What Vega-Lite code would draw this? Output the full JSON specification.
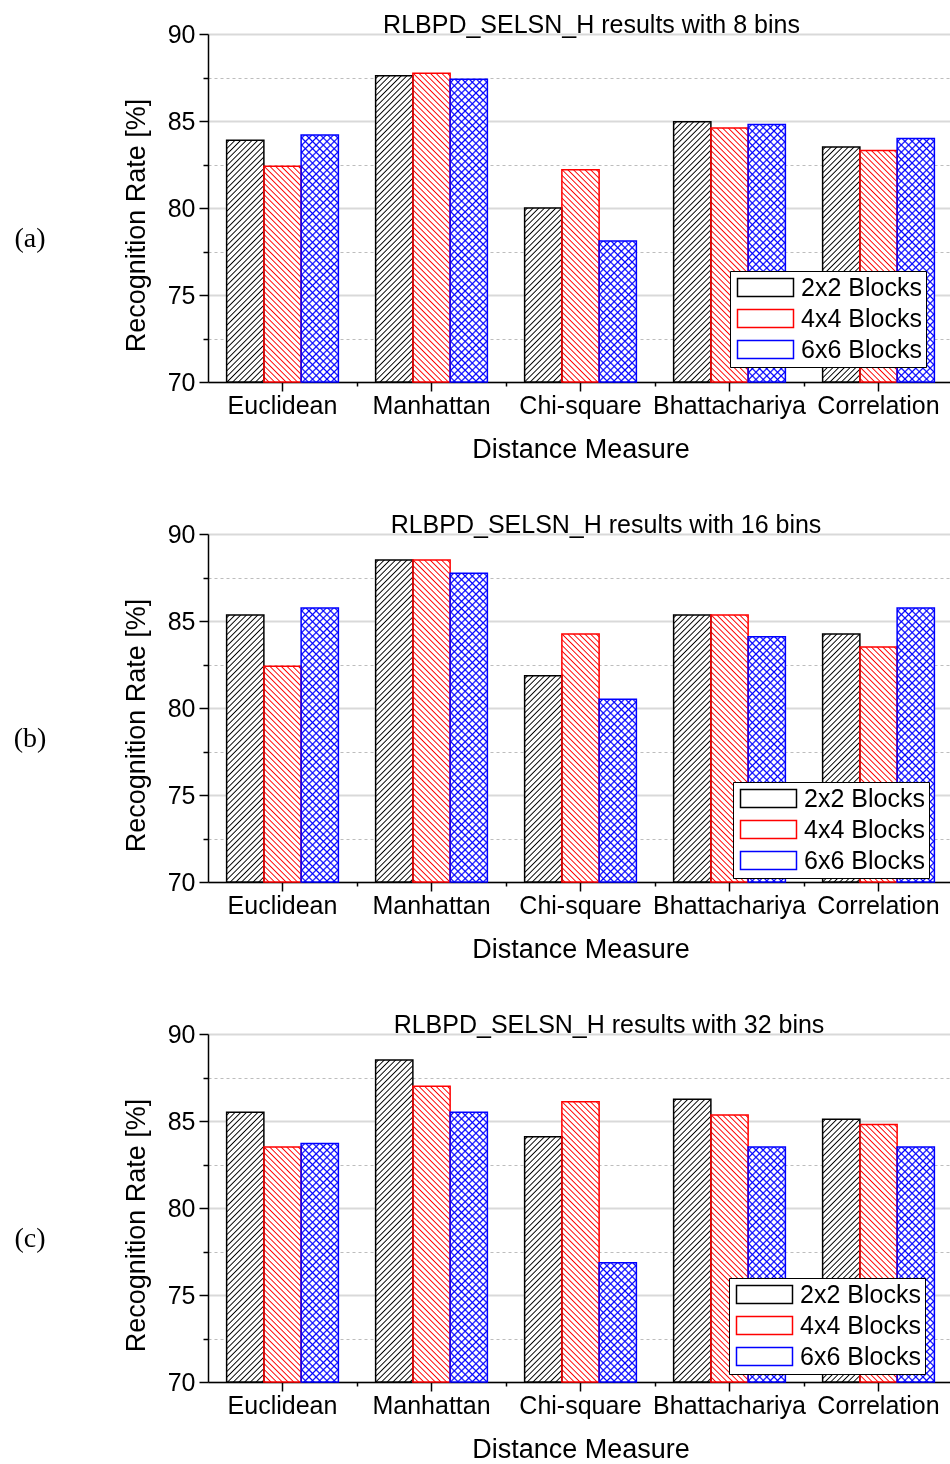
{
"$schema": "https://vega.github.io/schema/vega-lite/v6.json",
"padding": {"left": 13, "top": 13, "right": 0, "bottom": 0},
"background": "white",
"params": [
{"name": "hatch", "value": [{"offset":0.004,"color":"transparent"},{"offset":0.0075,"color":"#000"},{"offset":0.011,"color":"transparent"},{"offset":0.019,"color":"transparent"},{"offset":0.0225,"color":"#000"},{"offset":0.026,"color":"transparent"},{"offset":0.034,"color":"transparent"},{"offset":0.0375,"color":"#000"},{"offset":0.041,"color":"transparent"},{"offset":0.049,"color":"transparent"},{"offset":0.0525,"color":"#000"},{"offset":0.056,"color":"transparent"},{"offset":0.064,"color":"transparent"},{"offset":0.0675,"color":"#000"},{"offset":0.071,"color":"transparent"},{"offset":0.079,"color":"transparent"},{"offset":0.0825,"color":"#000"},{"offset":0.086,"color":"transparent"},{"offset":0.094,"color":"transparent"},{"offset":0.0975,"color":"#000"},{"offset":0.101,"color":"transparent"},{"offset":0.109,"color":"transparent"},{"offset":0.1125,"color":"#000"},{"offset":0.116,"color":"transparent"},{"offset":0.124,"color":"transparent"},{"offset":0.1275,"color":"#000"},{"offset":0.131,"color":"transparent"},{"offset":0.139,"color":"transparent"},{"offset":0.1425,"color":"#000"},{"offset":0.146,"color":"transparent"},{"offset":0.154,"color":"transparent"},{"offset":0.1575,"color":"#000"},{"offset":0.161,"color":"transparent"},{"offset":0.169,"color":"transparent"},{"offset":0.1725,"color":"#000"},{"offset":0.176,"color":"transparent"},{"offset":0.184,"color":"transparent"},{"offset":0.1875,"color":"#000"},{"offset":0.191,"color":"transparent"},{"offset":0.199,"color":"transparent"},{"offset":0.2025,"color":"#000"},{"offset":0.206,"color":"transparent"},{"offset":0.214,"color":"transparent"},{"offset":0.2175,"color":"#000"},{"offset":0.221,"color":"transparent"},{"offset":0.229,"color":"transparent"},{"offset":0.2325,"color":"#000"},{"offset":0.236,"color":"transparent"},{"offset":0.244,"color":"transparent"},{"offset":0.2475,"color":"#000"},{"offset":0.251,"color":"transparent"},{"offset":0.259,"color":"transparent"},{"offset":0.2625,"color":"#000"},{"offset":0.266,"color":"transparent"},{"offset":0.274,"color":"transparent"},{"offset":0.2775,"color":"#000"},{"offset":0.281,"color":"transparent"},{"offset":0.289,"color":"transparent"},{"offset":0.2925,"color":"#000"},{"offset":0.296,"color":"transparent"},{"offset":0.304,"color":"transparent"},{"offset":0.3075,"color":"#000"},{"offset":0.311,"color":"transparent"},{"offset":0.319,"color":"transparent"},{"offset":0.3225,"color":"#000"},{"offset":0.326,"color":"transparent"},{"offset":0.334,"color":"transparent"},{"offset":0.3375,"color":"#000"},{"offset":0.341,"color":"transparent"},{"offset":0.349,"color":"transparent"},{"offset":0.3525,"color":"#000"},{"offset":0.356,"color":"transparent"},{"offset":0.364,"color":"transparent"},{"offset":0.3675,"color":"#000"},{"offset":0.371,"color":"transparent"},{"offset":0.379,"color":"transparent"},{"offset":0.3825,"color":"#000"},{"offset":0.386,"color":"transparent"},{"offset":0.394,"color":"transparent"},{"offset":0.3975,"color":"#000"},{"offset":0.401,"color":"transparent"},{"offset":0.409,"color":"transparent"},{"offset":0.4125,"color":"#000"},{"offset":0.416,"color":"transparent"},{"offset":0.424,"color":"transparent"},{"offset":0.4275,"color":"#000"},{"offset":0.431,"color":"transparent"},{"offset":0.439,"color":"transparent"},{"offset":0.4425,"color":"#000"},{"offset":0.446,"color":"transparent"},{"offset":0.454,"color":"transparent"},{"offset":0.4575,"color":"#000"},{"offset":0.461,"color":"transparent"},{"offset":0.469,"color":"transparent"},{"offset":0.4725,"color":"#000"},{"offset":0.476,"color":"transparent"},{"offset":0.484,"color":"transparent"},{"offset":0.4875,"color":"#000"},{"offset":0.491,"color":"transparent"},{"offset":0.499,"color":"transparent"},{"offset":0.5025,"color":"#000"},{"offset":0.506,"color":"transparent"},{"offset":0.514,"color":"transparent"},{"offset":0.5175,"color":"#000"},{"offset":0.521,"color":"transparent"},{"offset":0.529,"color":"transparent"},{"offset":0.5325,"color":"#000"},{"offset":0.536,"color":"transparent"},{"offset":0.544,"color":"transparent"},{"offset":0.5475,"color":"#000"},{"offset":0.551,"color":"transparent"},{"offset":0.559,"color":"transparent"},{"offset":0.5625,"color":"#000"},{"offset":0.566,"color":"transparent"},{"offset":0.574,"color":"transparent"},{"offset":0.5775,"color":"#000"},{"offset":0.581,"color":"transparent"},{"offset":0.589,"color":"transparent"},{"offset":0.5925,"color":"#000"},{"offset":0.596,"color":"transparent"},{"offset":0.604,"color":"transparent"},{"offset":0.6075,"color":"#000"},{"offset":0.611,"color":"transparent"},{"offset":0.619,"color":"transparent"},{"offset":0.6225,"color":"#000"},{"offset":0.626,"color":"transparent"},{"offset":0.634,"color":"transparent"},{"offset":0.6375,"color":"#000"},{"offset":0.641,"color":"transparent"},{"offset":0.649,"color":"transparent"},{"offset":0.6525,"color":"#000"},{"offset":0.656,"color":"transparent"},{"offset":0.664,"color":"transparent"},{"offset":0.6675,"color":"#000"},{"offset":0.671,"color":"transparent"},{"offset":0.679,"color":"transparent"},{"offset":0.6825,"color":"#000"},{"offset":0.686,"color":"transparent"},{"offset":0.694,"color":"transparent"},{"offset":0.6975,"color":"#000"},{"offset":0.701,"color":"transparent"},{"offset":0.709,"color":"transparent"},{"offset":0.7125,"color":"#000"},{"offset":0.716,"color":"transparent"},{"offset":0.724,"color":"transparent"},{"offset":0.7275,"color":"#000"},{"offset":0.731,"color":"transparent"},{"offset":0.739,"color":"transparent"},{"offset":0.7425,"color":"#000"},{"offset":0.746,"color":"transparent"},{"offset":0.754,"color":"transparent"},{"offset":0.7575,"color":"#000"},{"offset":0.761,"color":"transparent"},{"offset":0.769,"color":"transparent"},{"offset":0.7725,"color":"#000"},{"offset":0.776,"color":"transparent"},{"offset":0.784,"color":"transparent"},{"offset":0.7875,"color":"#000"},{"offset":0.791,"color":"transparent"},{"offset":0.799,"color":"transparent"},{"offset":0.8025,"color":"#000"},{"offset":0.806,"color":"transparent"},{"offset":0.814,"color":"transparent"},{"offset":0.8175,"color":"#000"},{"offset":0.821,"color":"transparent"},{"offset":0.829,"color":"transparent"},{"offset":0.8325,"color":"#000"},{"offset":0.836,"color":"transparent"},{"offset":0.844,"color":"transparent"},{"offset":0.8475,"color":"#000"},{"offset":0.851,"color":"transparent"},{"offset":0.859,"color":"transparent"},{"offset":0.8625,"color":"#000"},{"offset":0.866,"color":"transparent"},{"offset":0.874,"color":"transparent"},{"offset":0.8775,"color":"#000"},{"offset":0.881,"color":"transparent"},{"offset":0.889,"color":"transparent"},{"offset":0.8925,"color":"#000"},{"offset":0.896,"color":"transparent"},{"offset":0.904,"color":"transparent"},{"offset":0.9075,"color":"#000"},{"offset":0.911,"color":"transparent"},{"offset":0.919,"color":"transparent"},{"offset":0.9225,"color":"#000"},{"offset":0.926,"color":"transparent"},{"offset":0.934,"color":"transparent"},{"offset":0.9375,"color":"#000"},{"offset":0.941,"color":"transparent"},{"offset":0.949,"color":"transparent"},{"offset":0.9525,"color":"#000"},{"offset":0.956,"color":"transparent"},{"offset":0.964,"color":"transparent"},{"offset":0.9675,"color":"#000"},{"offset":0.971,"color":"transparent"},{"offset":0.979,"color":"transparent"},{"offset":0.9825,"color":"#000"},{"offset":0.986,"color":"transparent"}]}
],
"config": {
  "font": "Liberation Sans",
  "view": {"stroke": null},
  "axis": {"labelFont": "Liberation Sans", "titleFont": "Liberation Sans", "labelColor": "black", "titleColor": "black", "labelFontSize": 25, "titleFontSize": 27, "titleFontWeight": "normal", "domainColor": "black", "tickColor": "black", "domainWidth": 1.5, "tickWidth": 1.5, "labelOverlap": false, "labelBound": false, "labelFlush": false},
  "title": {"font": "Liberation Sans", "fontSize": 25, "fontWeight": "normal", "color": "black", "frame": "group", "anchor": "middle", "baseline": "alphabetic", "offset": -16},
  "legend": {"title": null, "orient": "none", "padding": 4, "strokeColor": "black", "fillColor": "white", "labelFont": "Liberation Sans", "labelFontSize": 25, "labelColor": "black", "symbolType": "M-1,-1H5.222V1H-1Z", "symbolSize": 324, "labelOffset": 42, "rowPadding": 5, "symbolStrokeWidth": 1.5},
  "concat": {"spacing": 51}
},
"resolve": {"scale": {"stroke": "independent"}, "legend": {"stroke": "independent"}},
"vconcat": [
{
  "title": {"text": "RLBPD_SELSN_H results with 8 bins", "dx": 11},
  "width": 745, "height": 348,
  "data": {"values": [
    {"D":"Euclidean","B":"2x2 Blocks","v":83.9},{"D":"Euclidean","B":"4x4 Blocks","v":82.4},{"D":"Euclidean","B":"6x6 Blocks","v":84.2},
    {"D":"Manhattan","B":"2x2 Blocks","v":87.6},{"D":"Manhattan","B":"4x4 Blocks","v":87.75},{"D":"Manhattan","B":"6x6 Blocks","v":87.4},
    {"D":"Chi-square","B":"2x2 Blocks","v":80.0},{"D":"Chi-square","B":"4x4 Blocks","v":82.2},{"D":"Chi-square","B":"6x6 Blocks","v":78.1},
    {"D":"Bhattachariya","B":"2x2 Blocks","v":84.95},{"D":"Bhattachariya","B":"4x4 Blocks","v":84.6},{"D":"Bhattachariya","B":"6x6 Blocks","v":84.8},
    {"D":"Correlation","B":"2x2 Blocks","v":83.5},{"D":"Correlation","B":"4x4 Blocks","v":83.3},{"D":"Correlation","B":"6x6 Blocks","v":84.0}
  ]},
  "encoding": {
    "x": {"field": "D", "type": "nominal", "sort": ["Euclidean","Manhattan","Chi-square","Bhattachariya","Correlation"], "scale": {"paddingInner": 0.25, "paddingOuter": 0.125}, "axis": null},
    "xOffset": {"field": "B", "type": "nominal", "sort": ["2x2 Blocks","4x4 Blocks","6x6 Blocks"], "scale": {"paddingInner": 0, "paddingOuter": 0}},
    "y": {"field": "v", "type": "quantitative", "scale": {"domain": [70, 90], "zero": false, "nice": false}, "axis": null},
    "y2": {"datum": 70}
  },
  "resolve": {"axis": {"x": "independent", "y": "independent"}},
  "layer": [
    {"mark": {"type": "bar", "fill": "white"},
     "encoding": {
       "x": {"field": "D", "type": "nominal", "sort": ["Euclidean","Manhattan","Chi-square","Bhattachariya","Correlation"], "scale": {"paddingInner": 0.25, "paddingOuter": 0.125}, "axis": {"orient": "bottom", "title": "Distance Measure", "labelAngle": 0, "tickSize": 9, "labelPadding": 2, "titlePadding": 18, "grid": false, "bandPosition": 0.5}},
       "y": {"field": "v", "type": "quantitative", "scale": {"domain": [70, 90], "zero": false, "nice": false}, "axis": {"orient": "left", "title": "Recognition Rate [%]", "values": [70,75,80,85,90], "tickSize": 9, "labelPadding": 4, "titlePadding": 17, "titleY": 191, "grid": true, "gridColor": "#d9d9d9", "gridWidth": 2}}
     }},
    {"mark": {"type": "bar", "fill": {"expr": "datum.B === '4x4 Blocks' ? 'transparent' : {gradient:'linear',x1:0,y1:0,x2:(datum.B === '6x6 Blocks' ? 480 : 380)*37.25/(1387.56+pow((datum.v-70)*17.4,2)),y2:(datum.B === '6x6 Blocks' ? 480 : 380)*(datum.v-70)*17.4/(1387.56+pow((datum.v-70)*17.4,2)),stops:hatch}"}},
     "encoding": {
       "x": {"field": "D", "type": "nominal", "sort": ["Euclidean","Manhattan","Chi-square","Bhattachariya","Correlation"], "scale": {"paddingInner": 0.25, "paddingOuter": 0.125}, "axis": {"orient": "bottom", "title": null, "labels": false, "domain": false, "grid": false, "tickSize": 4, "bandPosition": 1.1667}},
       "y": {"field": "v", "type": "quantitative", "scale": {"domain": [70, 90], "zero": false, "nice": false}, "axis": {"orient": "left", "title": "(a)", "titleFont": "Liberation Serif", "titleFontSize": 28, "titleAngle": 0, "titleX": -178.5, "titleY": 204, "titleAlign": "center", "titleBaseline": "middle", "values": [72.5,77.5,82.5,87.5], "labels": false, "domain": false, "tickSize": 5, "grid": true, "gridColor": "#bdbdbd", "gridDash": [3,3], "gridWidth": 1}}
     }},
    {"mark": {"type": "bar", "fill": {"expr": "datum.B === '2x2 Blocks' ? 'transparent' : {gradient:'linear',x1:1,y1:0,x2:1-(datum.B === '6x6 Blocks' ? 480 : 380)*37.25/(1387.56+pow((datum.v-70)*17.4,2)),y2:(datum.B === '6x6 Blocks' ? 480 : 380)*(datum.v-70)*17.4/(1387.56+pow((datum.v-70)*17.4,2)),stops:hatch}"}}},
    {"mark": {"type": "bar", "blend": "lighten", "fill": {"expr": "datum.B === '2x2 Blocks' ? 'black' : datum.B === '4x4 Blocks' ? 'red' : 'blue'"}}},
    {"mark": {"type": "bar", "fill": "transparent", "strokeWidth": 1.5},
     "encoding": {"stroke": {"field": "B", "type": "nominal", "scale": {"domain": ["2x2 Blocks","4x4 Blocks","6x6 Blocks"], "range": ["black","red","blue"]},
       "legend": {"legendX": 522, "legendY": 237, "encode": {"symbols": {"update": {
         "fill": [
           {"test": "datum.value === '2x2 Blocks'", "value": {"gradient": "linear", "x1": 0, "y1": 0, "x2": 1.23, "y2": 0.395, "stops": [{"offset":0.02,"color":"transparent"},{"offset":0.0375,"color":"#000"},{"offset":0.055,"color":"transparent"},{"offset":0.095,"color":"transparent"},{"offset":0.1125,"color":"#000"},{"offset":0.13,"color":"transparent"},{"offset":0.17,"color":"transparent"},{"offset":0.1875,"color":"#000"},{"offset":0.205,"color":"transparent"},{"offset":0.245,"color":"transparent"},{"offset":0.2625,"color":"#000"},{"offset":0.28,"color":"transparent"},{"offset":0.32,"color":"transparent"},{"offset":0.3375,"color":"#000"},{"offset":0.355,"color":"transparent"},{"offset":0.395,"color":"transparent"},{"offset":0.4125,"color":"#000"},{"offset":0.43,"color":"transparent"},{"offset":0.47,"color":"transparent"},{"offset":0.4875,"color":"#000"},{"offset":0.505,"color":"transparent"},{"offset":0.545,"color":"transparent"},{"offset":0.5625,"color":"#000"},{"offset":0.58,"color":"transparent"},{"offset":0.62,"color":"transparent"},{"offset":0.6375,"color":"#000"},{"offset":0.655,"color":"transparent"},{"offset":0.695,"color":"transparent"},{"offset":0.7125,"color":"#000"},{"offset":0.73,"color":"transparent"},{"offset":0.77,"color":"transparent"},{"offset":0.7875,"color":"#000"},{"offset":0.805,"color":"transparent"},{"offset":0.845,"color":"transparent"},{"offset":0.8625,"color":"#000"},{"offset":0.88,"color":"transparent"},{"offset":0.92,"color":"transparent"},{"offset":0.9375,"color":"#000"},{"offset":0.955,"color":"transparent"}]}},
           {"test": "datum.value === '4x4 Blocks'", "value": {"gradient": "linear", "x1": 1, "y1": 0, "x2": -0.23, "y2": 0.395, "stops": [{"offset":0.02,"color":"transparent"},{"offset":0.0375,"color":"red"},{"offset":0.055,"color":"transparent"},{"offset":0.095,"color":"transparent"},{"offset":0.1125,"color":"red"},{"offset":0.13,"color":"transparent"},{"offset":0.17,"color":"transparent"},{"offset":0.1875,"color":"red"},{"offset":0.205,"color":"transparent"},{"offset":0.245,"color":"transparent"},{"offset":0.2625,"color":"red"},{"offset":0.28,"color":"transparent"},{"offset":0.32,"color":"transparent"},{"offset":0.3375,"color":"red"},{"offset":0.355,"color":"transparent"},{"offset":0.395,"color":"transparent"},{"offset":0.4125,"color":"red"},{"offset":0.43,"color":"transparent"},{"offset":0.47,"color":"transparent"},{"offset":0.4875,"color":"red"},{"offset":0.505,"color":"transparent"},{"offset":0.545,"color":"transparent"},{"offset":0.5625,"color":"red"},{"offset":0.58,"color":"transparent"},{"offset":0.62,"color":"transparent"},{"offset":0.6375,"color":"red"},{"offset":0.655,"color":"transparent"},{"offset":0.695,"color":"transparent"},{"offset":0.7125,"color":"red"},{"offset":0.73,"color":"transparent"},{"offset":0.77,"color":"transparent"},{"offset":0.7875,"color":"red"},{"offset":0.805,"color":"transparent"},{"offset":0.845,"color":"transparent"},{"offset":0.8625,"color":"red"},{"offset":0.88,"color":"transparent"},{"offset":0.92,"color":"transparent"},{"offset":0.9375,"color":"red"},{"offset":0.955,"color":"transparent"}]}},
           {"value": {"gradient": "linear", "x1": 0, "y1": 0, "x2": 1.554, "y2": 0.499, "stops": [{"offset":0.02,"color":"transparent"},{"offset":0.0375,"color":"blue"},{"offset":0.055,"color":"transparent"},{"offset":0.095,"color":"transparent"},{"offset":0.1125,"color":"blue"},{"offset":0.13,"color":"transparent"},{"offset":0.17,"color":"transparent"},{"offset":0.1875,"color":"blue"},{"offset":0.205,"color":"transparent"},{"offset":0.245,"color":"transparent"},{"offset":0.2625,"color":"blue"},{"offset":0.28,"color":"transparent"},{"offset":0.32,"color":"transparent"},{"offset":0.3375,"color":"blue"},{"offset":0.355,"color":"transparent"},{"offset":0.395,"color":"transparent"},{"offset":0.4125,"color":"blue"},{"offset":0.43,"color":"transparent"},{"offset":0.47,"color":"transparent"},{"offset":0.4875,"color":"blue"},{"offset":0.505,"color":"transparent"},{"offset":0.545,"color":"transparent"},{"offset":0.5625,"color":"blue"},{"offset":0.58,"color":"transparent"},{"offset":0.62,"color":"transparent"},{"offset":0.6375,"color":"blue"},{"offset":0.655,"color":"transparent"},{"offset":0.695,"color":"transparent"},{"offset":0.7125,"color":"blue"},{"offset":0.73,"color":"transparent"},{"offset":0.77,"color":"transparent"},{"offset":0.7875,"color":"blue"},{"offset":0.805,"color":"transparent"},{"offset":0.845,"color":"transparent"},{"offset":0.8625,"color":"blue"},{"offset":0.88,"color":"transparent"},{"offset":0.92,"color":"transparent"},{"offset":0.9375,"color":"blue"},{"offset":0.955,"color":"transparent"}]}}]}}}}}}}
  ]
},
{
  "title": {"text": "RLBPD_SELSN_H results with 16 bins", "dx": 25.5},
  "width": 745, "height": 348,
  "data": {"values": [
    {"D":"Euclidean","B":"2x2 Blocks","v":85.35},{"D":"Euclidean","B":"4x4 Blocks","v":82.4},{"D":"Euclidean","B":"6x6 Blocks","v":85.75},
    {"D":"Manhattan","B":"2x2 Blocks","v":88.5},{"D":"Manhattan","B":"4x4 Blocks","v":88.5},{"D":"Manhattan","B":"6x6 Blocks","v":87.75},
    {"D":"Chi-square","B":"2x2 Blocks","v":81.85},{"D":"Chi-square","B":"4x4 Blocks","v":84.25},{"D":"Chi-square","B":"6x6 Blocks","v":80.5},
    {"D":"Bhattachariya","B":"2x2 Blocks","v":85.35},{"D":"Bhattachariya","B":"4x4 Blocks","v":85.35},{"D":"Bhattachariya","B":"6x6 Blocks","v":84.1},
    {"D":"Correlation","B":"2x2 Blocks","v":84.25},{"D":"Correlation","B":"4x4 Blocks","v":83.5},{"D":"Correlation","B":"6x6 Blocks","v":85.75}
  ]},
  "encoding": {
    "x": {"field": "D", "type": "nominal", "sort": ["Euclidean","Manhattan","Chi-square","Bhattachariya","Correlation"], "scale": {"paddingInner": 0.25, "paddingOuter": 0.125}, "axis": null},
    "xOffset": {"field": "B", "type": "nominal", "sort": ["2x2 Blocks","4x4 Blocks","6x6 Blocks"], "scale": {"paddingInner": 0, "paddingOuter": 0}},
    "y": {"field": "v", "type": "quantitative", "scale": {"domain": [70, 90], "zero": false, "nice": false}, "axis": null},
    "y2": {"datum": 70}
  },
  "resolve": {"axis": {"x": "independent", "y": "independent"}},
  "layer": [
    {"mark": {"type": "bar", "fill": "white"},
     "encoding": {
       "x": {"field": "D", "type": "nominal", "sort": ["Euclidean","Manhattan","Chi-square","Bhattachariya","Correlation"], "scale": {"paddingInner": 0.25, "paddingOuter": 0.125}, "axis": {"orient": "bottom", "title": "Distance Measure", "labelAngle": 0, "tickSize": 9, "labelPadding": 2, "titlePadding": 18, "grid": false, "bandPosition": 0.5}},
       "y": {"field": "v", "type": "quantitative", "scale": {"domain": [70, 90], "zero": false, "nice": false}, "axis": {"orient": "left", "title": "Recognition Rate [%]", "values": [70,75,80,85,90], "tickSize": 9, "labelPadding": 4, "titlePadding": 17, "titleY": 191, "grid": true, "gridColor": "#d9d9d9", "gridWidth": 2}}
     }},
    {"mark": {"type": "bar", "fill": {"expr": "datum.B === '4x4 Blocks' ? 'transparent' : {gradient:'linear',x1:0,y1:0,x2:(datum.B === '6x6 Blocks' ? 480 : 380)*37.25/(1387.56+pow((datum.v-70)*17.4,2)),y2:(datum.B === '6x6 Blocks' ? 480 : 380)*(datum.v-70)*17.4/(1387.56+pow((datum.v-70)*17.4,2)),stops:hatch}"}},
     "encoding": {
       "x": {"field": "D", "type": "nominal", "sort": ["Euclidean","Manhattan","Chi-square","Bhattachariya","Correlation"], "scale": {"paddingInner": 0.25, "paddingOuter": 0.125}, "axis": {"orient": "bottom", "title": null, "labels": false, "domain": false, "grid": false, "tickSize": 4, "bandPosition": 1.1667}},
       "y": {"field": "v", "type": "quantitative", "scale": {"domain": [70, 90], "zero": false, "nice": false}, "axis": {"orient": "left", "title": "(b)", "titleFont": "Liberation Serif", "titleFontSize": 28, "titleAngle": 0, "titleX": -178.5, "titleY": 204, "titleAlign": "center", "titleBaseline": "middle", "values": [72.5,77.5,82.5,87.5], "labels": false, "domain": false, "tickSize": 5, "grid": true, "gridColor": "#bdbdbd", "gridDash": [3,3], "gridWidth": 1}}
     }},
    {"mark": {"type": "bar", "fill": {"expr": "datum.B === '2x2 Blocks' ? 'transparent' : {gradient:'linear',x1:1,y1:0,x2:1-(datum.B === '6x6 Blocks' ? 480 : 380)*37.25/(1387.56+pow((datum.v-70)*17.4,2)),y2:(datum.B === '6x6 Blocks' ? 480 : 380)*(datum.v-70)*17.4/(1387.56+pow((datum.v-70)*17.4,2)),stops:hatch}"}}},
    {"mark": {"type": "bar", "blend": "lighten", "fill": {"expr": "datum.B === '2x2 Blocks' ? 'black' : datum.B === '4x4 Blocks' ? 'red' : 'blue'"}}},
    {"mark": {"type": "bar", "fill": "transparent", "strokeWidth": 1.5},
     "encoding": {"stroke": {"field": "B", "type": "nominal", "scale": {"domain": ["2x2 Blocks","4x4 Blocks","6x6 Blocks"], "range": ["black","red","blue"]},
       "legend": {"legendX": 525, "legendY": 248, "encode": {"symbols": {"update": {
         "fill": [
           {"test": "datum.value === '2x2 Blocks'", "value": {"gradient": "linear", "x1": 0, "y1": 0, "x2": 1.23, "y2": 0.395, "stops": [{"offset":0.02,"color":"transparent"},{"offset":0.0375,"color":"#000"},{"offset":0.055,"color":"transparent"},{"offset":0.095,"color":"transparent"},{"offset":0.1125,"color":"#000"},{"offset":0.13,"color":"transparent"},{"offset":0.17,"color":"transparent"},{"offset":0.1875,"color":"#000"},{"offset":0.205,"color":"transparent"},{"offset":0.245,"color":"transparent"},{"offset":0.2625,"color":"#000"},{"offset":0.28,"color":"transparent"},{"offset":0.32,"color":"transparent"},{"offset":0.3375,"color":"#000"},{"offset":0.355,"color":"transparent"},{"offset":0.395,"color":"transparent"},{"offset":0.4125,"color":"#000"},{"offset":0.43,"color":"transparent"},{"offset":0.47,"color":"transparent"},{"offset":0.4875,"color":"#000"},{"offset":0.505,"color":"transparent"},{"offset":0.545,"color":"transparent"},{"offset":0.5625,"color":"#000"},{"offset":0.58,"color":"transparent"},{"offset":0.62,"color":"transparent"},{"offset":0.6375,"color":"#000"},{"offset":0.655,"color":"transparent"},{"offset":0.695,"color":"transparent"},{"offset":0.7125,"color":"#000"},{"offset":0.73,"color":"transparent"},{"offset":0.77,"color":"transparent"},{"offset":0.7875,"color":"#000"},{"offset":0.805,"color":"transparent"},{"offset":0.845,"color":"transparent"},{"offset":0.8625,"color":"#000"},{"offset":0.88,"color":"transparent"},{"offset":0.92,"color":"transparent"},{"offset":0.9375,"color":"#000"},{"offset":0.955,"color":"transparent"}]}},
           {"test": "datum.value === '4x4 Blocks'", "value": {"gradient": "linear", "x1": 1, "y1": 0, "x2": -0.23, "y2": 0.395, "stops": [{"offset":0.02,"color":"transparent"},{"offset":0.0375,"color":"red"},{"offset":0.055,"color":"transparent"},{"offset":0.095,"color":"transparent"},{"offset":0.1125,"color":"red"},{"offset":0.13,"color":"transparent"},{"offset":0.17,"color":"transparent"},{"offset":0.1875,"color":"red"},{"offset":0.205,"color":"transparent"},{"offset":0.245,"color":"transparent"},{"offset":0.2625,"color":"red"},{"offset":0.28,"color":"transparent"},{"offset":0.32,"color":"transparent"},{"offset":0.3375,"color":"red"},{"offset":0.355,"color":"transparent"},{"offset":0.395,"color":"transparent"},{"offset":0.4125,"color":"red"},{"offset":0.43,"color":"transparent"},{"offset":0.47,"color":"transparent"},{"offset":0.4875,"color":"red"},{"offset":0.505,"color":"transparent"},{"offset":0.545,"color":"transparent"},{"offset":0.5625,"color":"red"},{"offset":0.58,"color":"transparent"},{"offset":0.62,"color":"transparent"},{"offset":0.6375,"color":"red"},{"offset":0.655,"color":"transparent"},{"offset":0.695,"color":"transparent"},{"offset":0.7125,"color":"red"},{"offset":0.73,"color":"transparent"},{"offset":0.77,"color":"transparent"},{"offset":0.7875,"color":"red"},{"offset":0.805,"color":"transparent"},{"offset":0.845,"color":"transparent"},{"offset":0.8625,"color":"red"},{"offset":0.88,"color":"transparent"},{"offset":0.92,"color":"transparent"},{"offset":0.9375,"color":"red"},{"offset":0.955,"color":"transparent"}]}},
           {"value": {"gradient": "linear", "x1": 0, "y1": 0, "x2": 1.554, "y2": 0.499, "stops": [{"offset":0.02,"color":"transparent"},{"offset":0.0375,"color":"blue"},{"offset":0.055,"color":"transparent"},{"offset":0.095,"color":"transparent"},{"offset":0.1125,"color":"blue"},{"offset":0.13,"color":"transparent"},{"offset":0.17,"color":"transparent"},{"offset":0.1875,"color":"blue"},{"offset":0.205,"color":"transparent"},{"offset":0.245,"color":"transparent"},{"offset":0.2625,"color":"blue"},{"offset":0.28,"color":"transparent"},{"offset":0.32,"color":"transparent"},{"offset":0.3375,"color":"blue"},{"offset":0.355,"color":"transparent"},{"offset":0.395,"color":"transparent"},{"offset":0.4125,"color":"blue"},{"offset":0.43,"color":"transparent"},{"offset":0.47,"color":"transparent"},{"offset":0.4875,"color":"blue"},{"offset":0.505,"color":"transparent"},{"offset":0.545,"color":"transparent"},{"offset":0.5625,"color":"blue"},{"offset":0.58,"color":"transparent"},{"offset":0.62,"color":"transparent"},{"offset":0.6375,"color":"blue"},{"offset":0.655,"color":"transparent"},{"offset":0.695,"color":"transparent"},{"offset":0.7125,"color":"blue"},{"offset":0.73,"color":"transparent"},{"offset":0.77,"color":"transparent"},{"offset":0.7875,"color":"blue"},{"offset":0.805,"color":"transparent"},{"offset":0.845,"color":"transparent"},{"offset":0.8625,"color":"blue"},{"offset":0.88,"color":"transparent"},{"offset":0.92,"color":"transparent"},{"offset":0.9375,"color":"blue"},{"offset":0.955,"color":"transparent"}]}}]}}}}}}}
  ]
},
{
  "title": {"text": "RLBPD_SELSN_H results with 32 bins", "dx": 28.5},
  "width": 745, "height": 348,
  "data": {"values": [
    {"D":"Euclidean","B":"2x2 Blocks","v":85.5},{"D":"Euclidean","B":"4x4 Blocks","v":83.5},{"D":"Euclidean","B":"6x6 Blocks","v":83.7},
    {"D":"Manhattan","B":"2x2 Blocks","v":88.5},{"D":"Manhattan","B":"4x4 Blocks","v":87.0},{"D":"Manhattan","B":"6x6 Blocks","v":85.5},
    {"D":"Chi-square","B":"2x2 Blocks","v":84.1},{"D":"Chi-square","B":"4x4 Blocks","v":86.1},{"D":"Chi-square","B":"6x6 Blocks","v":76.85},
    {"D":"Bhattachariya","B":"2x2 Blocks","v":86.25},{"D":"Bhattachariya","B":"4x4 Blocks","v":85.35},{"D":"Bhattachariya","B":"6x6 Blocks","v":83.5},
    {"D":"Correlation","B":"2x2 Blocks","v":85.1},{"D":"Correlation","B":"4x4 Blocks","v":84.8},{"D":"Correlation","B":"6x6 Blocks","v":83.5}
  ]},
  "encoding": {
    "x": {"field": "D", "type": "nominal", "sort": ["Euclidean","Manhattan","Chi-square","Bhattachariya","Correlation"], "scale": {"paddingInner": 0.25, "paddingOuter": 0.125}, "axis": null},
    "xOffset": {"field": "B", "type": "nominal", "sort": ["2x2 Blocks","4x4 Blocks","6x6 Blocks"], "scale": {"paddingInner": 0, "paddingOuter": 0}},
    "y": {"field": "v", "type": "quantitative", "scale": {"domain": [70, 90], "zero": false, "nice": false}, "axis": null},
    "y2": {"datum": 70}
  },
  "resolve": {"axis": {"x": "independent", "y": "independent"}},
  "layer": [
    {"mark": {"type": "bar", "fill": "white"},
     "encoding": {
       "x": {"field": "D", "type": "nominal", "sort": ["Euclidean","Manhattan","Chi-square","Bhattachariya","Correlation"], "scale": {"paddingInner": 0.25, "paddingOuter": 0.125}, "axis": {"orient": "bottom", "title": "Distance Measure", "labelAngle": 0, "tickSize": 9, "labelPadding": 2, "titlePadding": 18, "grid": false, "bandPosition": 0.5}},
       "y": {"field": "v", "type": "quantitative", "scale": {"domain": [70, 90], "zero": false, "nice": false}, "axis": {"orient": "left", "title": "Recognition Rate [%]", "values": [70,75,80,85,90], "tickSize": 9, "labelPadding": 4, "titlePadding": 17, "titleY": 191, "grid": true, "gridColor": "#d9d9d9", "gridWidth": 2}}
     }},
    {"mark": {"type": "bar", "fill": {"expr": "datum.B === '4x4 Blocks' ? 'transparent' : {gradient:'linear',x1:0,y1:0,x2:(datum.B === '6x6 Blocks' ? 480 : 380)*37.25/(1387.56+pow((datum.v-70)*17.4,2)),y2:(datum.B === '6x6 Blocks' ? 480 : 380)*(datum.v-70)*17.4/(1387.56+pow((datum.v-70)*17.4,2)),stops:hatch}"}},
     "encoding": {
       "x": {"field": "D", "type": "nominal", "sort": ["Euclidean","Manhattan","Chi-square","Bhattachariya","Correlation"], "scale": {"paddingInner": 0.25, "paddingOuter": 0.125}, "axis": {"orient": "bottom", "title": null, "labels": false, "domain": false, "grid": false, "tickSize": 4, "bandPosition": 1.1667}},
       "y": {"field": "v", "type": "quantitative", "scale": {"domain": [70, 90], "zero": false, "nice": false}, "axis": {"orient": "left", "title": "(c)", "titleFont": "Liberation Serif", "titleFontSize": 28, "titleAngle": 0, "titleX": -178.5, "titleY": 204, "titleAlign": "center", "titleBaseline": "middle", "values": [72.5,77.5,82.5,87.5], "labels": false, "domain": false, "tickSize": 5, "grid": true, "gridColor": "#bdbdbd", "gridDash": [3,3], "gridWidth": 1}}
     }},
    {"mark": {"type": "bar", "fill": {"expr": "datum.B === '2x2 Blocks' ? 'transparent' : {gradient:'linear',x1:1,y1:0,x2:1-(datum.B === '6x6 Blocks' ? 480 : 380)*37.25/(1387.56+pow((datum.v-70)*17.4,2)),y2:(datum.B === '6x6 Blocks' ? 480 : 380)*(datum.v-70)*17.4/(1387.56+pow((datum.v-70)*17.4,2)),stops:hatch}"}}},
    {"mark": {"type": "bar", "blend": "lighten", "fill": {"expr": "datum.B === '2x2 Blocks' ? 'black' : datum.B === '4x4 Blocks' ? 'red' : 'blue'"}}},
    {"mark": {"type": "bar", "fill": "transparent", "strokeWidth": 1.5},
     "encoding": {"stroke": {"field": "B", "type": "nominal", "scale": {"domain": ["2x2 Blocks","4x4 Blocks","6x6 Blocks"], "range": ["black","red","blue"]},
       "legend": {"legendX": 521, "legendY": 244, "encode": {"symbols": {"update": {
         "fill": [
           {"test": "datum.value === '2x2 Blocks'", "value": {"gradient": "linear", "x1": 0, "y1": 0, "x2": 1.23, "y2": 0.395, "stops": [{"offset":0.02,"color":"transparent"},{"offset":0.0375,"color":"#000"},{"offset":0.055,"color":"transparent"},{"offset":0.095,"color":"transparent"},{"offset":0.1125,"color":"#000"},{"offset":0.13,"color":"transparent"},{"offset":0.17,"color":"transparent"},{"offset":0.1875,"color":"#000"},{"offset":0.205,"color":"transparent"},{"offset":0.245,"color":"transparent"},{"offset":0.2625,"color":"#000"},{"offset":0.28,"color":"transparent"},{"offset":0.32,"color":"transparent"},{"offset":0.3375,"color":"#000"},{"offset":0.355,"color":"transparent"},{"offset":0.395,"color":"transparent"},{"offset":0.4125,"color":"#000"},{"offset":0.43,"color":"transparent"},{"offset":0.47,"color":"transparent"},{"offset":0.4875,"color":"#000"},{"offset":0.505,"color":"transparent"},{"offset":0.545,"color":"transparent"},{"offset":0.5625,"color":"#000"},{"offset":0.58,"color":"transparent"},{"offset":0.62,"color":"transparent"},{"offset":0.6375,"color":"#000"},{"offset":0.655,"color":"transparent"},{"offset":0.695,"color":"transparent"},{"offset":0.7125,"color":"#000"},{"offset":0.73,"color":"transparent"},{"offset":0.77,"color":"transparent"},{"offset":0.7875,"color":"#000"},{"offset":0.805,"color":"transparent"},{"offset":0.845,"color":"transparent"},{"offset":0.8625,"color":"#000"},{"offset":0.88,"color":"transparent"},{"offset":0.92,"color":"transparent"},{"offset":0.9375,"color":"#000"},{"offset":0.955,"color":"transparent"}]}},
           {"test": "datum.value === '4x4 Blocks'", "value": {"gradient": "linear", "x1": 1, "y1": 0, "x2": -0.23, "y2": 0.395, "stops": [{"offset":0.02,"color":"transparent"},{"offset":0.0375,"color":"red"},{"offset":0.055,"color":"transparent"},{"offset":0.095,"color":"transparent"},{"offset":0.1125,"color":"red"},{"offset":0.13,"color":"transparent"},{"offset":0.17,"color":"transparent"},{"offset":0.1875,"color":"red"},{"offset":0.205,"color":"transparent"},{"offset":0.245,"color":"transparent"},{"offset":0.2625,"color":"red"},{"offset":0.28,"color":"transparent"},{"offset":0.32,"color":"transparent"},{"offset":0.3375,"color":"red"},{"offset":0.355,"color":"transparent"},{"offset":0.395,"color":"transparent"},{"offset":0.4125,"color":"red"},{"offset":0.43,"color":"transparent"},{"offset":0.47,"color":"transparent"},{"offset":0.4875,"color":"red"},{"offset":0.505,"color":"transparent"},{"offset":0.545,"color":"transparent"},{"offset":0.5625,"color":"red"},{"offset":0.58,"color":"transparent"},{"offset":0.62,"color":"transparent"},{"offset":0.6375,"color":"red"},{"offset":0.655,"color":"transparent"},{"offset":0.695,"color":"transparent"},{"offset":0.7125,"color":"red"},{"offset":0.73,"color":"transparent"},{"offset":0.77,"color":"transparent"},{"offset":0.7875,"color":"red"},{"offset":0.805,"color":"transparent"},{"offset":0.845,"color":"transparent"},{"offset":0.8625,"color":"red"},{"offset":0.88,"color":"transparent"},{"offset":0.92,"color":"transparent"},{"offset":0.9375,"color":"red"},{"offset":0.955,"color":"transparent"}]}},
           {"value": {"gradient": "linear", "x1": 0, "y1": 0, "x2": 1.554, "y2": 0.499, "stops": [{"offset":0.02,"color":"transparent"},{"offset":0.0375,"color":"blue"},{"offset":0.055,"color":"transparent"},{"offset":0.095,"color":"transparent"},{"offset":0.1125,"color":"blue"},{"offset":0.13,"color":"transparent"},{"offset":0.17,"color":"transparent"},{"offset":0.1875,"color":"blue"},{"offset":0.205,"color":"transparent"},{"offset":0.245,"color":"transparent"},{"offset":0.2625,"color":"blue"},{"offset":0.28,"color":"transparent"},{"offset":0.32,"color":"transparent"},{"offset":0.3375,"color":"blue"},{"offset":0.355,"color":"transparent"},{"offset":0.395,"color":"transparent"},{"offset":0.4125,"color":"blue"},{"offset":0.43,"color":"transparent"},{"offset":0.47,"color":"transparent"},{"offset":0.4875,"color":"blue"},{"offset":0.505,"color":"transparent"},{"offset":0.545,"color":"transparent"},{"offset":0.5625,"color":"blue"},{"offset":0.58,"color":"transparent"},{"offset":0.62,"color":"transparent"},{"offset":0.6375,"color":"blue"},{"offset":0.655,"color":"transparent"},{"offset":0.695,"color":"transparent"},{"offset":0.7125,"color":"blue"},{"offset":0.73,"color":"transparent"},{"offset":0.77,"color":"transparent"},{"offset":0.7875,"color":"blue"},{"offset":0.805,"color":"transparent"},{"offset":0.845,"color":"transparent"},{"offset":0.8625,"color":"blue"},{"offset":0.88,"color":"transparent"},{"offset":0.92,"color":"transparent"},{"offset":0.9375,"color":"blue"},{"offset":0.955,"color":"transparent"}]}}]}}}}}}}
  ]
}
]
}
